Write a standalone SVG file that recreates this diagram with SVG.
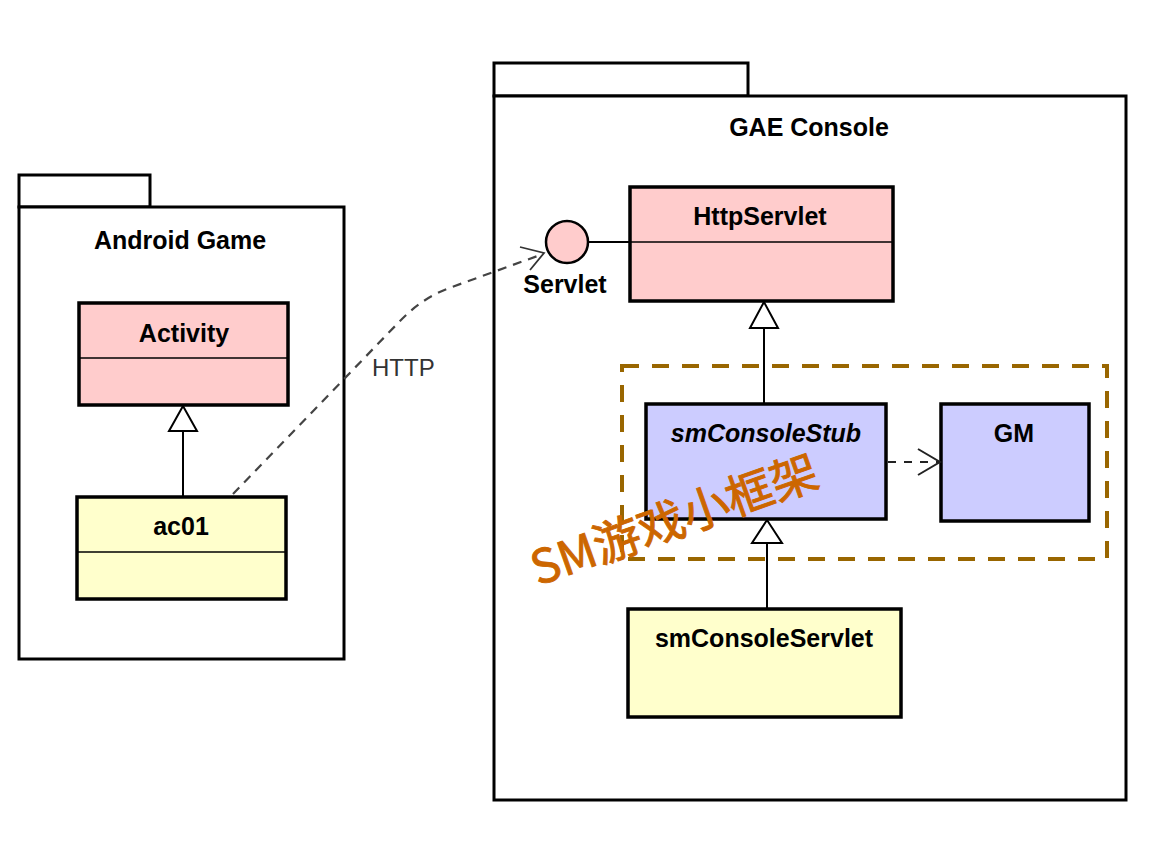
<svg xmlns="http://www.w3.org/2000/svg" width="1160" height="850" viewBox="0 0 1160 850">
<style>
.pkg{fill:#fff;stroke:#000;stroke-width:3}
.cls{stroke:#000;stroke-width:3.5}
.pink{fill:#ffcccc}.yel{fill:#ffffcc}.blue{fill:#ccccff}
.div{stroke:#000;stroke-width:1.5}
.t{font-family:"Liberation Sans",Arial,sans-serif;font-weight:bold;font-size:25px;fill:#000;text-anchor:middle}
.gen{stroke:#000;stroke-width:2;fill:none}
.tri{fill:#fff;stroke:#000;stroke-width:2}
</style>
<rect width="1160" height="850" fill="#fff"/>

<g id="pkg-android">
<rect class="pkg" x="19" y="175" width="131" height="32"/>
<rect class="pkg" x="19" y="207" width="325" height="452"/>
<text class="t" x="180" y="249">Android Game</text>
</g>

<g id="pkg-gae">
<rect class="pkg" x="494" y="63" width="254" height="33"/>
<rect class="pkg" x="494" y="96" width="632" height="704"/>
<text class="t" x="809" y="136">GAE Console</text>
</g>

<g id="frame">
<rect x="622" y="366" width="485" height="193" fill="none" stroke="#996600" stroke-width="4" stroke-dasharray="17 13"/>
</g>

<g id="activity">
<rect class="cls pink" x="79" y="303" width="209" height="102"/>
<line class="div" x1="79" y1="358" x2="288" y2="358"/>
<text class="t" x="184" y="342">Activity</text>
</g>

<g id="ac01">
<rect class="cls yel" x="77" y="497" width="209" height="102"/>
<line class="div" x1="77" y1="552" x2="286" y2="552"/>
<text class="t" x="181" y="535">ac01</text>
</g>

<g id="httpservlet">
<rect class="cls pink" x="630" y="187" width="263" height="114"/>
<line class="div" x1="630" y1="242" x2="893" y2="242"/>
<text class="t" x="760" y="225">HttpServlet</text>
</g>

<g id="servlet-interface">
<line x1="589" y1="242" x2="630" y2="242" stroke="#000" stroke-width="2"/>
<circle cx="567" cy="242" r="21" fill="#ffcccc" stroke="#000" stroke-width="2.5"/>
<text class="t" x="565" y="293">Servlet</text>
</g>

<g id="smconsolestub">
<rect class="cls blue" x="646" y="404" width="240" height="115"/>
<text class="t" x="766" y="442" font-style="italic">smConsoleStub</text>
</g>

<g id="gm">
<rect class="cls blue" x="941" y="404" width="148" height="117"/>
<text class="t" x="1014" y="442">GM</text>
</g>

<g id="smconsoleservlet">
<rect class="cls yel" x="628" y="609" width="273" height="108"/>
<text class="t" x="764" y="647">smConsoleServlet</text>
</g>

<g id="connectors">
<line class="gen" x1="183" y1="431" x2="183" y2="497"/>
<polygon class="tri" points="183,406 169,431 197,431"/>
<line class="gen" x1="764" y1="328" x2="764" y2="404"/>
<polygon class="tri" points="764,302 750,328 778,328"/>
<line class="gen" x1="767" y1="543" x2="767" y2="609"/>
<polygon class="tri" points="767,520 752,543 782,543"/>
<line x1="888" y1="462" x2="939" y2="462" stroke="#222" stroke-width="2" stroke-dasharray="8 8"/>
<polyline points="918,449 940,462 918,475" fill="none" stroke="#222" stroke-width="2"/>
<path d="M233,494 L400,321 Q423,297 452,287 L543,254" fill="none" stroke="#444" stroke-width="2.2" stroke-dasharray="9 7"/>
<polyline points="520,247 544,253 530,270" fill="none" stroke="#333" stroke-width="1.8"/>
<text x="372" y="376" font-family="Liberation Sans,Arial,sans-serif" font-size="24" fill="#333">HTTP</text>
</g>

<text x="538" y="586" transform="rotate(-19.5 538 586)" font-family="'Noto Sans CJK SC','Noto Sans',sans-serif" font-size="47" fill="#cc6600" stroke="#cc6600" stroke-width="0.9">SM游戏小框架</text>
</svg>
